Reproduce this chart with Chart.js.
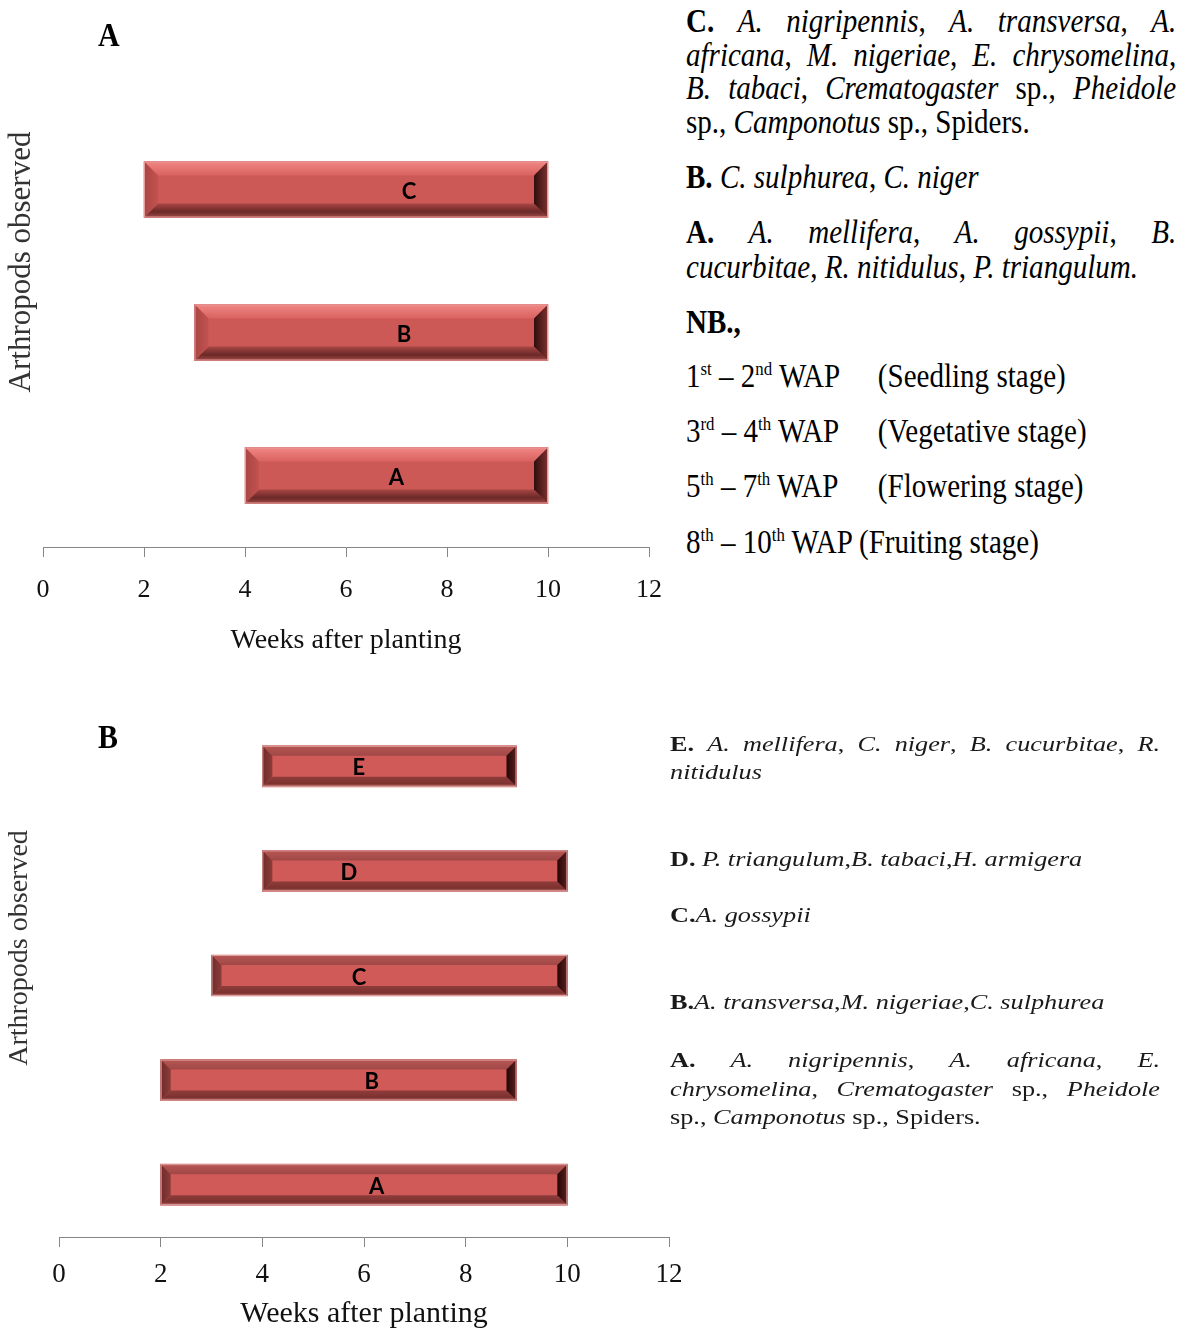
<!DOCTYPE html>
<html><head><meta charset="utf-8">
<script src="https://cdn.jsdelivr.net/npm/chart.js@4.4.1/dist/chart.umd.min.js"></script>
<style>
html,body{margin:0;padding:0;background:#fff;}
body{width:1187px;height:1331px;position:relative;overflow:hidden;}
#wrapA{position:absolute;left:0;top:0;width:680px;height:660px;}
#wrapB{position:absolute;left:0;top:700px;width:700px;height:633px;}
.pl{position:absolute;left:98px;font-family:'Liberation Serif',serif;font-weight:bold;font-size:34px;line-height:34px;color:#000;transform:scaleX(0.88);transform-origin:0 0;}
.ta{position:absolute;left:686px;font-family:'Liberation Serif',serif;font-size:33px;line-height:33px;color:#000;white-space:nowrap;transform:scaleX(0.88);transform-origin:0 0;}
.tb{position:absolute;left:670px;font-family:'Liberation Serif',serif;font-size:21px;line-height:21px;color:#1a1a1a;white-space:nowrap;transform:scaleX(1.25);transform-origin:0 0;}
.ta.j{width:557px;white-space:normal;text-align:justify;text-align-last:justify;}
.tb.j{width:392px;white-space:normal;text-align:justify;text-align-last:justify;}
sup{font-size:0.58em;vertical-align:baseline;position:relative;top:-0.65em;line-height:0;}
.st{position:absolute;left:218px;top:0;}
</style>
</head>
<body>
<div id="wrapA"><canvas id="chartA" width="680" height="660"></canvas></div>
<div id="wrapB"><canvas id="chartB" width="700" height="633"></canvas></div>

<div class="pl" style="top:18px">A</div>
<div class="pl" style="top:720px">B</div>

<div class="ta j" style="top:5px"><b>C.</b> <i>A. nigripennis</i>, <i>A. transversa</i>, <i>A.</i></div>
<div class="ta j" style="top:39px"><i>africana</i>, <i>M. nigeriae</i>, <i>E. chrysomelina</i>,</div>
<div class="ta j" style="top:72px"><i>B. tabaci</i>, <i>Crematogaster</i> sp., <i>Pheidole</i></div>
<div class="ta" style="top:106px">sp., <i>Camponotus</i> sp., Spiders.</div>
<div class="ta" style="top:161px"><b>B.</b> <i>C. sulphurea</i>, <i>C. niger</i></div>
<div class="ta j" style="top:216px"><b>A.</b> <i>A. mellifera</i>, <i>A. gossypii</i>, <i>B.</i></div>
<div class="ta" style="top:251px"><i>cucurbitae</i>, <i>R. nitidulus</i>, <i>P. triangulum.</i></div>
<div class="ta" style="top:306px"><b>NB.,</b></div>
<div class="ta" style="top:360px">1<sup>st</sup> – 2<sup>nd</sup> WAP<span class="st">(Seedling stage)</span></div>
<div class="ta" style="top:415px">3<sup>rd</sup> – 4<sup>th</sup> WAP<span class="st">(Vegetative stage)</span></div>
<div class="ta" style="top:470px">5<sup>th</sup> – 7<sup>th</sup> WAP<span class="st">(Flowering stage)</span></div>
<div class="ta" style="top:526px">8<sup>th</sup> – 10<sup>th</sup> WAP (Fruiting stage)</div>

<div class="tb j" style="top:734px"><b>E.</b> <i>A. mellifera</i>, <i>C. niger</i>, <i>B. cucurbitae</i>, <i>R.</i></div>
<div class="tb" style="top:762px"><i>nitidulus</i></div>
<div class="tb" style="top:849px"><b>D.</b> <i>P. triangulum</i>,<i>B. tabaci</i>,<i>H. armigera</i></div>
<div class="tb" style="top:905px"><b>C.</b><i>A. gossypii</i></div>
<div class="tb" style="top:992px"><b>B.</b><i>A. transversa</i>,<i>M. nigeriae</i>,<i>C. sulphurea</i></div>
<div class="tb j" style="top:1050px"><b>A.</b> <i>A. nigripennis</i>, <i>A. africana</i>, <i>E.</i></div>
<div class="tb j" style="top:1079px"><i>chrysomelina</i>, <i>Crematogaster</i> sp., <i>Pheidole</i></div>
<div class="tb" style="top:1107px">sp., <i>Camponotus</i> sp., Spiders.</div>

<script>
// ---- Data: panel A ----
const categoriesA = ['C', 'B', 'A'];
const startWeekA = [2, 3, 4];
const endWeekA = [10, 10, 10];
const labelPosA = [7.25, 7.15, 7.0];

// ---- Data: panel B ----
const categoriesB = ['E', 'D', 'C', 'B', 'A'];
const startWeekB = [4, 4, 3, 2, 2];
const endWeekB = [9, 10, 10, 9, 10];
const labelPosB = [5.9, 5.7, 5.9, 6.15, 6.25];

const xTicks = [0, 2, 4, 6, 8, 10, 12];

function poly(ctx, pts, fill) {
  ctx.beginPath();
  ctx.moveTo(pts[0][0], pts[0][1]);
  for (let k = 1; k < pts.length; k++) ctx.lineTo(pts[k][0], pts[k][1]);
  ctx.closePath();
  ctx.fillStyle = fill;
  ctx.fill();
}
function grad(ctx, x0, y0, x1, y1, stops) {
  const g = ctx.createLinearGradient(x0, y0, x1, y1);
  stops.forEach(s => g.addColorStop(s[0], s[1]));
  return g;
}

const bevelPlugin = {
  id: 'bevel',
  afterDatasetsDraw(chart, args, o) {
    const ctx = chart.ctx;
    const meta = chart.getDatasetMeta(0);
    const xs = chart.scales.x;
    meta.data.forEach((el, i) => {
      const p = el.getProps(['x', 'y', 'base', 'height'], true);
      const L = Math.min(p.x, p.base), R = Math.max(p.x, p.base);
      const T = p.y - p.height / 2, B = p.y + p.height / 2;
      const b = o.size;
      ctx.save();
      ctx.fillStyle = o.face;
      ctx.fillRect(L, T, R - L, B - T);
      poly(ctx, [[L, T], [R, T], [R - b, T + b], [L + b, T + b]], grad(ctx, 0, T, 0, T + b, o.top));
      poly(ctx, [[L, B], [R, B], [R - b, B - b], [L + b, B - b]], grad(ctx, 0, B - b, 0, B, o.bottom));
      poly(ctx, [[L, T], [L + b, T + b], [L + b, B - b], [L, B]], grad(ctx, L, 0, L + b, 0, o.left));
      poly(ctx, [[R, T], [R - b, T + b], [R - b, B - b], [R, B]], grad(ctx, R - b, 0, R, 0, o.right));
      ctx.strokeStyle = o.border;
      ctx.lineWidth = 1;
      ctx.strokeRect(L + 0.5, T + 0.5, R - L - 1, B - T - 1);
      ctx.fillStyle = '#000';
      ctx.font = o.labelFont;
      ctx.textAlign = 'center';
      ctx.textBaseline = 'middle';
      ctx.fillText(o.labels[i], xs.getPixelForValue(o.labelPos[i]), p.y + 2);
      ctx.restore();
    });
  }
};

const yTitlePlugin = {
  id: 'ytitle',
  afterDraw(chart, args, o) {
    const ctx = chart.ctx;
    ctx.save();
    ctx.translate(o.x, o.y);
    ctx.rotate(-Math.PI / 2);
    ctx.font = o.font;
    ctx.fillStyle = '#333';
    ctx.textAlign = 'center';
    ctx.textBaseline = 'middle';
    ctx.fillText(o.text, 0, 0);
    ctx.restore();
  }
};

function makeChart(id, cats, starts, ends, labelPos, cfg) {
  return new Chart(document.getElementById(id), {
    type: 'bar',
    data: {
      labels: cats,
      datasets: [{
        data: cats.map((c, i) => [starts[i], ends[i]]),
        backgroundColor: cfg.bevel.face,
        borderWidth: 0,
        barThickness: cfg.barThickness
      }]
    },
    options: {
      indexAxis: 'y',
      responsive: false,
      animation: false,
      devicePixelRatio: 1,
      layout: { padding: cfg.padding },
      plugins: {
        legend: { display: false },
        tooltip: { enabled: false },
        bevel: Object.assign({ labels: cats, labelPos: labelPos }, cfg.bevel),
        ytitle: cfg.ytitle
      },
      scales: {
        y: { type: 'category', display: false },
        x: {
          type: 'linear',
          min: 0, max: 12,
          afterBuildTicks: (s) => { s.ticks = xTicks.map(v => ({ value: v })); },
          afterFit: (s) => { s.height = cfg.axisHeight; },
          ticks: {
            font: { family: "'Liberation Serif'", size: cfg.tickSize },
            color: '#111',
            padding: cfg.tickPad,
            maxRotation: 0
          },
          grid: { drawOnChartArea: false, drawTicks: true, tickLength: 10, color: '#868686', lineWidth: 1 },
          border: { display: true, color: '#868686', width: 1 },
          title: {
            display: true,
            text: 'Weeks after planting',
            font: { family: "'Liberation Serif'", size: cfg.titleSize },
            color: '#111',
            padding: 0
          }
        }
      }
    },
    plugins: [bevelPlugin, yTitlePlugin]
  });
}

makeChart('chartA', categoriesA, startWeekA, endWeekA, labelPosA, {
  barThickness: 56,
  padding: { left: 43, right: 29, top: 118, bottom: 3 },
  axisHeight: 110, tickSize: 26, tickPad: 18, titleSize: 28,
  ytitle: { x: 22, y: 262, text: 'Arthropods observed', font: '31px "Liberation Serif"' },
  bevel: {
    size: 14,
    face: '#CD5956',
    top: [[0, '#F08784'], [1, '#D9625F']],
    bottom: [[0, '#A84644'], [0.6, '#6A2927'], [1, '#A24a48']],
    left: [[0, '#A84644'], [1, '#C35250']],
    right: [[0, '#2E0E0D'], [1, '#7E302E']],
    border: '#E49C9B',
    labelFont: 'bold 22px Lato'
  }
});

makeChart('chartB', categoriesB, startWeekB, endWeekB, labelPosB, {
  barThickness: 41,
  padding: { left: 59, right: 31, top: 14, bottom: 1 },
  axisHeight: 95, tickSize: 27, tickPad: 12, titleSize: 30,
  ytitle: { x: 20, y: 248, text: 'Arthropods observed', font: '28px "Liberation Serif"' },
  bevel: {
    size: 10,
    face: '#CF5A58',
    top: [[0, '#B65654'], [1, '#A04846']],
    bottom: [[0, '#8E3C3A'], [0.7, '#7C3230'], [1, '#C77673']],
    left: [[0, '#6E2C2A'], [1, '#8C3C3A']],
    right: [[0, '#230807'], [1, '#5C1F1E']],
    border: '#DDA09F',
    labelFont: 'bold 22px Lato'
  }
});
</script>
</body></html>
